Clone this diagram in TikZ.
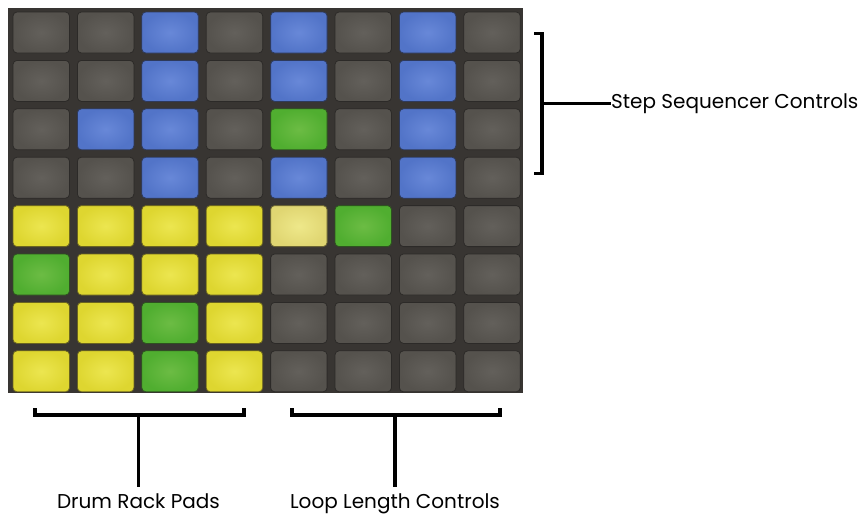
\documentclass[tikz,border=0pt]{standalone}
\usepackage{fontspec}
\setmainfont{Poppins}
\begin{document}
\begin{tikzpicture}[x=1pt,y=-1pt,
  padbase/.style={rectangle,rounded corners=4pt,minimum width=56.5pt,minimum height=41pt,inner sep=0pt,line width=0.8pt},
  padg/.style={padbase,inner color=padGin,outer color=padGout,draw=padGline},
  padb/.style={padbase,inner color=padBin,outer color=padBout,draw=padBline},
  pady/.style={padbase,inner color=padYin,outer color=padYout,draw=padYline},
  padn/.style={padbase,inner color=padNin,outer color=padNout,draw=padNline},
  padp/.style={padbase,inner color=padPin,outer color=padPout,draw=padPline},
  brk/.style={line width=3.5pt,black},
  lbl/.style={font=\fontsize{20}{20}\selectfont,inner sep=0pt,text=black}]
\definecolor{padGin}{HTML}{63605B}
\definecolor{padGout}{HTML}{55524D}
\definecolor{padGline}{HTML}{2C2A28}
\definecolor{padBin}{HTML}{6888D8}
\definecolor{padBout}{HTML}{5274C8}
\definecolor{padBline}{HTML}{2E3A5C}
\definecolor{padYin}{HTML}{ECE650}
\definecolor{padYout}{HTML}{DED630}
\definecolor{padYline}{HTML}{6A6420}
\definecolor{padNin}{HTML}{6CBC44}
\definecolor{padNout}{HTML}{50AE30}
\definecolor{padNline}{HTML}{2E5220}
\definecolor{padPin}{HTML}{EEE88A}
\definecolor{padPout}{HTML}{E0D672}
\definecolor{padPline}{HTML}{6A6434}
\definecolor{gridbg}{HTML}{383532}
\useasboundingbox (0,0) rectangle (860,514);
\fill[white] (0,0) rectangle (860,514);
\fill[gridbg] (8,8) rectangle (523,393);
\foreach \row [count=\r from 0] in {{g,g,b,g,b,g,b,g},{g,g,b,g,b,g,b,g},{g,b,b,g,n,g,b,g},{g,g,b,g,b,g,b,g},{y,y,y,y,p,n,g,g},{n,y,y,y,g,g,g,g},{y,y,n,y,g,g,g,g},{y,y,n,y,g,g,g,g}}{
  \foreach \k [count=\c from 0] in \row {
    \node[pad\k] (p\r\c) at ({41.25+64.4*\c},{32.5+48.4*\r}) {};
  }
}
% right bracket
\coordinate (rtop) at (542,33.5);
\coordinate (rbot) at (542,173.5);
\coordinate (rmid) at (542,103.4);
\draw[brk] (534,33.5) -- (rtop) -- (rbot) -- (534,173.5);
\node[lbl,anchor=west] (seq) at (611,103.4) {Step Sequencer Controls};
\draw[brk] (rmid) -- (seq.west);
% bottom left bracket
\coordinate (dmid) at (138.5,415);
\draw[brk] (35,408) -- (35,415) -- (244,415) -- (244,408);
\node[lbl,anchor=base] (drum) at (138.5,508) {Drum Rack Pads};
\draw[brk,shorten >=6pt] (dmid) -- (drum.north);
% bottom right bracket
\coordinate (lmid) at (395,415);
\draw[brk] (292,408) -- (292,415) -- (500,415) -- (500,408);
\node[lbl,anchor=base] (loop) at (395,508) {Loop Length Controls};
\draw[brk,shorten >=6pt] (lmid) -- (loop.north);
\end{tikzpicture}
\end{document}
